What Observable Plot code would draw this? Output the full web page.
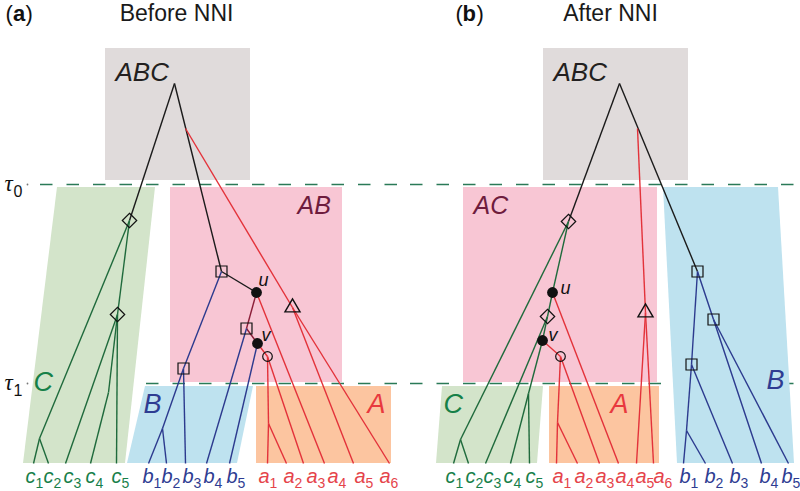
<!DOCTYPE html>
<html>
<head>
<meta charset="utf-8">
<script src="https://cdn.jsdelivr.net/npm/d3@7"></script>
<script src="https://cdn.jsdelivr.net/npm/@observablehq/plot@0.6"></script>
<style>
html,body{margin:0;padding:0;background:#fff;}
</style>
</head>
<body>
<div id="chart"></div>
<script>
// ---------------- data ----------------
const W = 800, H = 491;
const tipY = 463;

// species time boundaries
const tau = [{name: "0", y: 184}, {name: "1", y: 383}];
const tauSpans = [{panel: "a", x1: 40, x2: 398}, {panel: "b", x1: 410, x2: 795}];

// species boxes
const speciesBoxes = [
  {panel: "a", sp: "ABC", x1: 105, x2: 250, y1: 48, y2: 180},
  {panel: "a", sp: "AB", x1: 170, x2: 342, y1: 187, y2: 382},
  {panel: "a", sp: "A", x1: 256, x2: 391, y1: 386, y2: 463},
  {panel: "b", sp: "ABC", x1: 543, x2: 688, y1: 48, y2: 180},
  {panel: "b", sp: "AC", x1: 463, x2: 657, y1: 187, y2: 382},
  {panel: "b", sp: "A", x1: 549, x2: 659, y1: 386, y2: 463}
];
// slanted species (top and bottom edges)
const speciesSlants = [
  {id: "aC", sp: "C", y: 187, x1: 57, x2: 155}, {id: "aC", sp: "C", y: 463, x1: 23, x2: 125},
  {id: "aB", sp: "B", y: 386, x1: 145, x2: 253}, {id: "aB", sp: "B", y: 463, x1: 127, x2: 237},
  {id: "bB", sp: "B", y: 187, x1: 663, x2: 778}, {id: "bB", sp: "B", y: 463, x1: 677, x2: 794},
  {id: "bC", sp: "C", y: 386, x1: 442, x2: 543}, {id: "bC", sp: "C", y: 463, x1: 436, x2: 537}
];

// gene tree (a): internal nodes
const nodesA = [
  {id: "root", x: 174, y: 83}, {id: "rA", x: 185, y: 128},
  {id: "d1", x: 129, y: 220}, {id: "d2", x: 117, y: 314}, {id: "nc4", x: 108, y: 392}, {id: "fc", x: 39, y: 438},
  {id: "s1", x: 221, y: 271}, {id: "u", x: 256, y: 292}, {id: "s2", x: 246, y: 328}, {id: "v", x: 257, y: 343},
  {id: "circ", x: 267, y: 356}, {id: "fa", x: 268, y: 423}, {id: "s3", x: 183, y: 368}, {id: "fb", x: 162, y: 428},
  {id: "tri", x: 292, y: 307}
];
const tipsA = ["c1","c2","c3","c4","c5","b1","b2","b3","b4","b5","a1","a2","a3","a4","a5","a6"];
const tipXA = [33, 48, 65, 90, 116, 148, 166, 185, 206, 229, 267, 286, 303, 324, 353, 389];
const tipLabelXA = [35, 53, 73, 95, 121, 153, 172, 193, 214, 237, 269, 294, 317, 338, 365, 390];
const edgesA = [
  ["root","d1","root"],["root","s1","root"],["rA","tri","A"],["tri","a5","A"],["tri","a6","A"],
  ["s1","u","root"],["s1","s3","B"],["s3","b3","B"],["s3","fb","B"],["fb","b1","B"],["fb","b2","B"],
  ["u","s2","AB"],["s2","v","AB"],["s2","b4","B"],["v","b5","B"],["v","circ","A"],
  ["circ","fa","A"],["fa","a1","A"],["fa","a2","A"],["circ","a3","A"],["u","a4","A"],
  ["d1","fc","C"],["fc","c1","C"],["fc","c2","C"],["d1","d2","C"],["d2","c3","C"],
  ["d2","nc4","C"],["nc4","c4","C"],["d2","c5","C"]
];

// gene tree (b)
const nodesB = [
  {id: "root", x: 619, y: 83}, {id: "rA", x: 637, y: 128},
  {id: "d1", x: 568, y: 221}, {id: "u", x: 552, y: 292}, {id: "d2", x: 547, y: 316}, {id: "v", x: 542, y: 340},
  {id: "circ", x: 560, y: 356}, {id: "fc", x: 460, y: 439}, {id: "nc45", x: 528, y: 393}, {id: "fa", x: 557, y: 422},
  {id: "s1", x: 697, y: 271}, {id: "s2", x: 713, y: 319}, {id: "s3", x: 691, y: 364}, {id: "fb", x: 686, y: 430},
  {id: "tri", x: 645, y: 312}
];
const tipsB = ["c1","c2","c3","c4","c5","a1","a2","a3","a4","a5","a6","b1","b2","b3","b4","b5"];
const tipXB = [453, 468, 485, 510, 529, 556, 577, 599, 618, 636, 653, 683, 705, 732, 761, 788];
const tipLabelXB = [455, 475, 493, 513, 535, 563, 585, 606, 626, 646, 664, 690, 715, 740, 770, 792];
const edgesB = [
  ["root","d1","root"],["root","s1","root"],["rA","tri","A"],["tri","a5","A"],["tri","a6","A"],
  ["d1","fc","C"],["fc","c1","C"],["fc","c2","C"],["d1","u","C"],["u","d2","C"],["d2","v","C"],
  ["d2","c3","C"],["v","nc45","C"],["nc45","c4","C"],["nc45","c5","C"],
  ["u","a4","A"],["v","circ","A"],["circ","fa","A"],["fa","a1","A"],["fa","a2","A"],["circ","a3","A"],
  ["s1","s3","B"],["s3","fb","B"],["fb","b1","B"],["fb","b2","B"],["s3","b3","B"],
  ["s1","s2","B"],["s2","b4","B"],["s2","b5","B"]
];

// event markers
const markerNodes = ["d1","d2","s1","s2","s3","tri","circ","u","v"];
const markerShapes = ["diamond","diamond","square","square","square","triangle","circle","event","event"];

// labels
const regionLabels = [
  {panel: "a", t: "ABC", sp: "ABC", x: 115, y: 80, size: 26},
  {panel: "b", t: "ABC", sp: "ABC", x: 553, y: 80, size: 26},
  {panel: "a", t: "AB", sp: "AB", x: 297, y: 213, size: 25},
  {panel: "b", t: "AC", sp: "AC", x: 473, y: 213, size: 25},
  {panel: "a", t: "C", sp: "C", x: 33, y: 390, size: 27},
  {panel: "a", t: "B", sp: "B", x: 143, y: 412, size: 27},
  {panel: "a", t: "A", sp: "A", x: 367, y: 412, size: 27},
  {panel: "b", t: "B", sp: "B", x: 766, y: 388, size: 27},
  {panel: "b", t: "C", sp: "C", x: 443, y: 412, size: 27},
  {panel: "b", t: "A", sp: "A", x: 610, y: 412, size: 27}
];
const nodeLabels = [
  {t: "u", x: 258, y: 285}, {t: "v", x: 261, y: 340},
  {t: "u", x: 560, y: 293}, {t: "v", x: 548, y: 340}
];
const titles = [{t: "Before NNI", x: 176}, {t: "After NNI", x: 610}];
const panelParens = [{t: "(", x: 5}, {t: ")", x: 25}, {t: "(", x: 455}, {t: ")", x: 476}];
const panelLetters = [{t: "a", x: 12.5}, {t: "b", x: 462}];

// ---------------- styles ----------------
const FILL = {ABC: "#e0dbdb", AB: "#f8c6d4", AC: "#f8c6d4", A: "#fcc5a0", B: "#bee2ef", C: "#d3e4ca"};
const LINE = {root: "#1b1b1b", A: "#e3323a", B: "#2c3a8e", C: "#1f6a3c", AB: "#8b1e38"};
const LABEL = {ABC: "#231f20", AB: "#6e1c3d", AC: "#6e1c3d", A: "#e8393e", B: "#2e3c92", C: "#168048"};
const TIPCOL = {a: "#e5444a", b: "#2e3c92", c: "#17804a"};
const DASH = "#2a7a57";

// ---------------- build ----------------
function nodeMap(nodes, tips, tipX) {
  const m = new Map(nodes.map(d => [d.id, d]));
  tips.forEach((t, i) => m.set(t, {id: t, x: tipX[i], y: tipY}));
  return m;
}
const mapA = nodeMap(nodesA, tipsA, tipXA);
const mapB = nodeMap(nodesB, tipsB, tipXB);
function links(edges, m) {
  return edges.map(([f, t, l]) => ({x1: m.get(f).x, y1: m.get(f).y, x2: m.get(t).x, y2: m.get(t).y, lineage: l}));
}
const allLinks = [...links(edgesA, mapA), ...links(edgesB, mapB)];
const markers = [mapA, mapB].flatMap(m => markerNodes.map((n, i) => ({x: m.get(n).x, y: m.get(n).y, shape: markerShapes[i]})));
const tauRules = tau.flatMap(t => tauSpans.map(s => ({...s, y: t.y})));
const tipLabels = [
  ...tipsA.map((t, i) => ({letter: t[0], sub: t.slice(1), x: tipLabelXA[i]})),
  ...tipsB.map((t, i) => ({letter: t[0], sub: t.slice(1), x: tipLabelXB[i]}))
];

const sans = "Liberation Sans, Arial, Helvetica, sans-serif";
const byShape = s => markers.filter(d => d.shape === s);

const chart = Plot.plot({
  width: W, height: H, margin: 0,
  x: {domain: [0, W], range: [0, W], axis: null},
  y: {domain: [0, H], range: [0, H], axis: null},
  color: {type: "identity"},
  style: {fontFamily: sans, background: "#fff", overflow: "visible"},
  marks: [
    Plot.ruleY(tauRules, {y: "y", x1: "x1", x2: "x2", stroke: DASH, strokeWidth: 1.6, strokeDasharray: "12.5,14"}),
    Plot.dot(tau, {x: () => 27, y: "y", r: 0.9, fill: "#777"}),
    Plot.rect(speciesBoxes, {x1: "x1", x2: "x2", y1: "y1", y2: "y2", fill: d => FILL[d.sp]}),
    Plot.areaX(speciesSlants, {y: "y", x1: "x1", x2: "x2", z: "id", fill: d => FILL[d.sp], curve: "linear"}),
    Plot.link(allLinks, {x1: "x1", y1: "y1", x2: "x2", y2: "y2", stroke: d => LINE[d.lineage], strokeWidth: 1.4}),
    Plot.dot(byShape("square"), {x: "x", y: "y", symbol: "square", r: 6.2, stroke: "#111", strokeWidth: 1.2, fill: "none"}),
    Plot.dot(byShape("diamond"), {x: "x", y: "y", symbol: "diamond2", r: 6.5, stroke: "#111", strokeWidth: 1.2, fill: "none"}),
    Plot.dot(byShape("triangle"), {x: "x", y: "y", symbol: "triangle2", r: 7.2, stroke: "#111", strokeWidth: 1.4, fill: "none"}),
    Plot.dot(byShape("circle"), {x: "x", y: "y", symbol: "circle", r: 4.8, stroke: "#111", strokeWidth: 1.2, fill: "none"}),
    Plot.dot(byShape("event"), {x: "x", y: "y", symbol: "circle", r: 5.4, fill: "#111", stroke: "none"}),
    // region labels
    ...[26, 25, 27].map(sz => Plot.text(regionLabels.filter(d => d.size === sz), {
      x: "x", y: "y", text: "t", fill: d => LABEL[d.sp], fontSize: sz, fontStyle: "italic",
      textAnchor: "start", lineAnchor: "bottom"})),
    // u, v
    Plot.text(nodeLabels, {x: "x", y: "y", text: "t", fill: "#111", fontSize: 18, fontWeight: "normal", fontStyle: "italic", textAnchor: "start", lineAnchor: "bottom"}),
    // tip labels
    Plot.text(tipLabels, {x: "x", y: () => 482, text: "letter", fill: d => TIPCOL[d.letter], fontSize: 20, fontStyle: "italic", textAnchor: "end", lineAnchor: "bottom"}),
    Plot.text(tipLabels, {x: "x", y: () => 487, text: "sub", fill: d => TIPCOL[d.letter], fontSize: 14, textAnchor: "start", lineAnchor: "bottom"}),
    // tau labels
    Plot.text(tau, {x: () => 4, y: "y", dy: 6, text: () => "τ", fill: "#111", fontSize: 23, fontStyle: "italic", fontFamily: "Liberation Serif, DejaVu Serif, serif", textAnchor: "start", lineAnchor: "bottom"}),
    Plot.text(tau, {x: () => 13, y: "y", dy: 12, text: "name", fill: "#111", fontSize: 16, textAnchor: "start", lineAnchor: "bottom"}),
    // titles
    Plot.text(titles, {x: "x", y: () => 20, text: "t", fill: "#1a1a1a", fontSize: 23, textAnchor: "middle", lineAnchor: "bottom"}),
    Plot.text(panelParens, {x: "x", y: () => 20, text: "t", fill: "#111", fontSize: 22, textAnchor: "start", lineAnchor: "bottom"}),
    Plot.text(panelLetters, {x: "x", y: () => 20, text: "t", fill: "#111", fontSize: 22, fontWeight: "bold", textAnchor: "start", lineAnchor: "bottom"})
  ]
});
document.getElementById("chart").appendChild(chart);
</script>
</body>
</html>
